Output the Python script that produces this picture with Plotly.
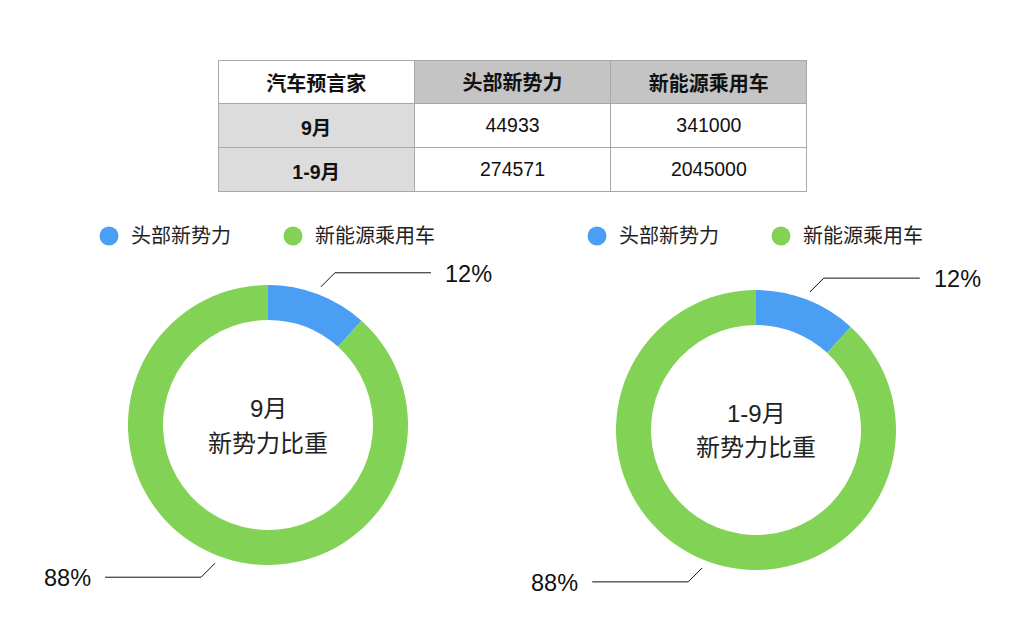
import math
import plotly.graph_objects as go

# ---- data ----
table_header = ["汽车预言家", "头部新势力", "新能源乘用车"]
row_labels = ["9月", "1-9月"]
new_forces = [44933, 274571]
nev_passenger = [341000, 2045000]
series_names = ["头部新势力", "新能源乘用车"]
center_titles = [["9月", "新势力比重"], ["1-9月", "新势力比重"]]

BLUE = "#4a9ff5"
GREEN = "#82d255"
FONT = "Liberation Sans, Noto Sans CJK SC, sans-serif"
W, H = 1024, 628


def px(x):
    return x / W


def py(y):
    return 1 - y / H


fig = go.Figure()

# ---- table: background (fills + grid) ----
T_LEFT, T_RIGHT, T_TOP = 218, 807, 60
HEAD_H, ROW_H = 43, 44
fig.add_trace(go.Table(
    domain=dict(x=[px(T_LEFT), px(T_RIGHT)], y=[py(T_TOP + HEAD_H + 2 * ROW_H + 4), py(T_TOP)]),
    columnwidth=[1, 1, 1],
    header=dict(
        values=["", "", ""],
        fill_color=["#ffffff", "#c4c4c4", "#c4c4c4"],
        line=dict(color="#a8a8a8", width=1),
        height=HEAD_H,
    ),
    cells=dict(
        values=[[""] * 2, [""] * 2, [""] * 2],
        fill_color=[["#dcdcdc"] * 2, ["#ffffff"] * 2, ["#ffffff"] * 2],
        line=dict(color="#a8a8a8", width=1),
        height=ROW_H,
    ),
    hoverinfo="skip",
))
# ---- table: text layer ----
fig.add_trace(go.Table(
    domain=dict(x=[px(T_LEFT), px(T_RIGHT)], y=[py(T_TOP + HEAD_H + 2 * ROW_H + 20), py(T_TOP + 4)]),
    columnwidth=[1, 1, 1],
    header=dict(
        values=[f"<b>{h}</b>" for h in table_header],
        fill_color="rgba(0,0,0,0)",
        line=dict(color="rgba(0,0,0,0)", width=0),
        align="center",
        height=HEAD_H + 2,
        font=dict(family=FONT, size=20, color="#111111"),
    ),
    cells=dict(
        values=[[f"<b>{r}</b>" for r in row_labels], new_forces, nev_passenger],
        fill_color="rgba(0,0,0,0)",
        line=dict(color="rgba(0,0,0,0)", width=0),
        align="center",
        height=ROW_H,
        font=dict(family=FONT, size=19.5, color="#111111"),
    ),
))

# ---- donuts ----
centers = [(268, 425), (756, 430)]
R = 140
legend_x = [(109, 293), (597, 781)]
legend_y = 236
shapes = []
annotations = []

for i, (cx, cy) in enumerate(centers):
    vals = [new_forces[i], nev_passenger[i]]
    fig.add_trace(go.Pie(
        values=vals,
        labels=series_names,
        domain=dict(x=[px(cx - R), px(cx + R)], y=[py(cy + R), py(cy - R)]),
        hole=0.75,
        sort=False,
        direction="clockwise",
        rotation=0,
        textinfo="none",
        marker=dict(colors=[BLUE, GREEN], line=dict(width=0)),
        showlegend=False,
    ))
    for k, line_txt in enumerate(center_titles[i]):
        annotations.append(dict(
            x=px(cx), y=py(cy - 17 + 35 * k), xref="paper", yref="paper",
            xanchor="center", yanchor="middle",
            text=line_txt, showarrow=False,
            font=dict(family=FONT, size=24, color="#222222"),
        ))
    # leader lines and percentage labels
    total = sum(vals)
    start_frac = 0.0
    for v in vals:
        frac = v / total
        mid = (start_frac + frac / 2) * 2 * math.pi
        start_frac += frac
        sx = cx + 148 * math.sin(mid)
        sy = cy - 148 * math.cos(mid)
        dx = 1 if math.sin(mid) >= 0 else -1
        dy = 1 if -math.cos(mid) >= 0 else -1
        ex = sx + 14 * dx
        ey = sy + 14 * dy
        hx = ex + 96 * dx
        shapes.append(dict(type="line", xref="paper", yref="paper",
                           x0=px(sx), y0=py(sy), x1=px(ex), y1=py(ey),
                           line=dict(color="#111111", width=1)))
        shapes.append(dict(type="line", xref="paper", yref="paper",
                           x0=px(ex), y0=py(ey), x1=px(hx), y1=py(ey),
                           line=dict(color="#111111", width=1)))
        annotations.append(dict(
            x=px(hx + 12 * dx), y=py(ey + 1), xref="paper", yref="paper",
            text=f"{round(frac * 100)}%", showarrow=False,
            xanchor="left" if dx > 0 else "right", yanchor="middle",
            font=dict(family=FONT, size=23.5, color="#111111"),
        ))
    # legend
    for j, name in enumerate(series_names):
        lx = legend_x[i][j]
        shapes.append(dict(type="circle", xref="paper", yref="paper",
                           x0=px(lx - 9.5), x1=px(lx + 9.5),
                           y0=py(legend_y + 9.5), y1=py(legend_y - 9.5),
                           fillcolor=[BLUE, GREEN][j], line=dict(width=0)))
        annotations.append(dict(
            x=px(lx + 20), y=py(legend_y), xref="paper", yref="paper",
            text=name, showarrow=False, xanchor="left", yanchor="middle",
            font=dict(family=FONT, size=20, color="#222222"),
        ))

fig.update_layout(
    width=W, height=H,
    margin=dict(l=0, r=0, t=0, b=0),
    paper_bgcolor="#ffffff",
    plot_bgcolor="#ffffff",
    shapes=shapes,
    annotations=annotations,
    showlegend=False,
)

fig.write_html("out.html", config={"displayModeBar": False},
               post_script="document.body.style.margin='0';")
